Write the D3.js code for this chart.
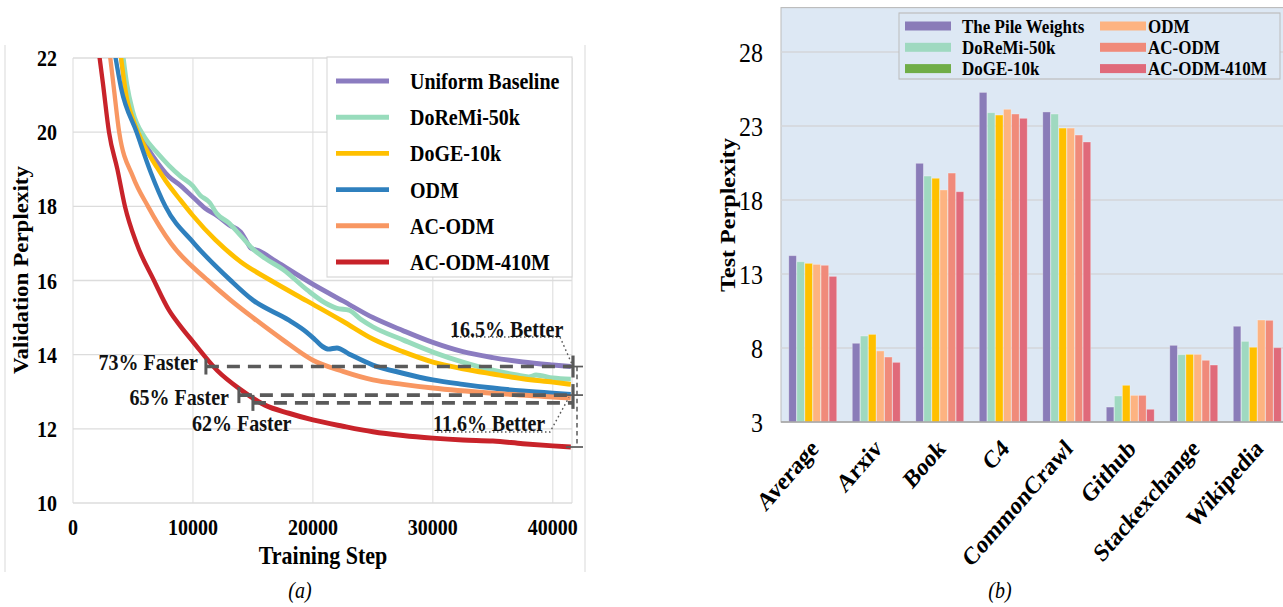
<!DOCTYPE html>
<html>
<head>
<meta charset="utf-8">
<script src="https://cdn.jsdelivr.net/npm/d3@7"></script>
<style>
  body { margin: 0; background: #fff; }
  svg { display: block; font-family: "Liberation Serif", "Times New Roman", serif; }
  .b { font-weight: bold; }
</style>
</head>
<body>
<div id="chart"></div>
<script>
// ---- panel (a): validation perplexity curves ----
const lineNames = ['Uniform Baseline', 'DoReMi-50k', 'DoGE-10k', 'ODM', 'AC-ODM', 'AC-ODM-410M'];
const lineColors = ['#8b7cc0', '#98dcbc', '#ffc000', '#2f80be', '#f89762', '#c8232a'];

const uniformPts = [[3900,22.3],[4500,20.9],[5000,20.4],[6000,19.7],[7000,19.2],[8000,18.8],[9000,18.55],[10000,18.25],[11000,17.95],[12000,17.75],[13000,17.5],[14000,17.3],[14400,17.1],[14800,16.88],[15500,16.8],[17000,16.5],[20000,15.9],[22500,15.45],[25000,15.0],[27500,14.65],[30000,14.33],[32500,14.08],[35000,13.92],[37500,13.8],[40000,13.72],[41500,13.68]];
const doremiPts = [[4100,22.3],[4500,21.3],[5000,20.55],[6000,19.85],[7000,19.45],[8000,19.1],[9000,18.8],[10000,18.55],[10600,18.3],[11400,18.1],[12000,17.8],[13000,17.55],[14000,17.2],[15000,16.85],[16000,16.6],[17500,16.3],[19500,15.75],[21000,15.4],[22000,15.25],[23000,15.2],[24000,14.95],[25000,14.75],[27500,14.4],[30000,14.07],[32500,13.8],[35000,13.58],[37000,13.45],[38000,13.4],[38600,13.45],[40000,13.37],[41500,13.34]];
const dogePts = [[3900,22.3],[4500,20.9],[5000,20.35],[6000,19.6],[7000,19.05],[7700,18.7],[9000,18.15],[10000,17.75],[11850,17.1],[14000,16.5],[16500,16.0],[19500,15.45],[22500,14.9],[25000,14.42],[27500,14.08],[30000,13.8],[32500,13.62],[35000,13.48],[37500,13.35],[40000,13.26],[41500,13.2]];
const odmPts = [[3400,22.3],[4000,21.2],[5300,20.0],[6500,18.9],[7700,18.0],[10100,17.0],[13150,16.0],[15000,15.47],[18000,14.93],[19500,14.6],[20200,14.4],[20800,14.22],[21300,14.15],[22000,14.18],[23000,14.02],[25000,13.72],[27500,13.5],[30000,13.32],[32500,13.2],[35000,13.1],[37500,13.02],[40000,12.96],[41500,12.93]];
const acodmPts = [[3000,22.3],[3400,21.2],[3850,20.0],[5000,18.8],[6250,18.0],[8170,17.0],[11250,16.0],[13150,15.47],[15000,15.0],[17500,14.4],[20000,13.85],[22500,13.55],[25000,13.32],[27500,13.2],[30000,13.1],[35000,12.96],[40000,12.86],[41500,12.83]];
const ac410Pts = [[2100,22.3],[2500,21.3],[3000,20.0],[3700,19.0],[4330,18.0],[5300,17.0],[6750,16.0],[8000,15.2],[9000,14.75],[10000,14.35],[12000,13.58],[14000,13.05],[16000,12.64],[18000,12.42],[20000,12.24],[22500,12.07],[25000,11.92],[27500,11.82],[30000,11.75],[32500,11.7],[35000,11.67],[37500,11.6],[40000,11.54],[41500,11.51]];
const linePts = [uniformPts, doremiPts, dogePts, odmPts, acodmPts, ac410Pts];

const leftYTicks = [10, 12, 14, 16, 18, 20, 22];
const leftXTicks = [0, 10000, 20000, 30000, 40000];

// speed-up markers: level, start step, label
const fasterLevels = [13.68, 12.91, 12.70];
const fasterStarts = [11080, 13830, 15000];
const fasterLabels = ['73% Faster', '65% Faster', '62% Faster'];
const betterLevels = [13.68, 12.91, 11.51];
const betterLabels = ['16.5% Better', '11.6% Better'];

// ---- panel (b): test perplexity bars ----
const domains = ['Average', 'Arxiv', 'Book', 'C4', 'CommonCrawl', 'Github', 'Stackexchange', 'Wikipedia'];
const barNames = ['The Pile Weights', 'DoReMi-50k', 'DoGE-10k', 'ODM', 'AC-ODM', 'AC-ODM-410M'];
const barColors = ['#8a7cb8', '#9fd9c0', '#ffc000', '#fdb381', '#f08a7a', '#e06a7a'];
const legendColors = ['#8a7cb8', '#9fd9c0', '#70ad47', '#fdb381', '#f08a7a', '#e06a7a'];
const pileVals   = [14.24, 8.32, 20.48, 25.27, 23.95, 4.01, 8.18, 9.47];
const doremiVals = [13.83, 8.81, 19.62, 23.90, 23.81, 4.76, 7.55, 8.45];
const dogeVals   = [13.72, 8.92, 19.47, 23.74, 22.86, 5.48, 7.57, 8.05];
const odmVals    = [13.65, 7.80, 18.68, 24.13, 22.86, 4.80, 7.57, 9.89];
const acodmVals  = [13.59, 7.39, 19.82, 23.81, 22.39, 4.80, 7.17, 9.87];
const ac410Vals  = [12.84, 7.03, 18.56, 23.52, 21.92, 3.86, 6.85, 8.02];
const barVals = [pileVals, doremiVals, dogeVals, odmVals, acodmVals, ac410Vals];
const rightYTicks = [3, 8, 13, 18, 23, 28];

// the source figure is a little taller than its fonts, so stretch it vertically
const SY = 1.15;
const Y = v => v / SY;

const svg = d3.select('#chart').append('svg')
  .attr('width', 1283)
  .attr('height', 607);
const root = svg.append('g').attr('transform', `scale(1,${SY})`);

// ============ panel (a) ============
const x = d3.scaleLinear().domain([0, 41600]).range([73, 572]);
const y = d3.scaleLinear().domain([10, 22]).range([Y(503), Y(58)]);

// outer frame
[5, 585].forEach(px => {
  root.append('line').attr('x1', px).attr('x2', px).attr('y1', Y(45)).attr('y2', Y(572))
    .attr('stroke', '#d9d9d9').attr('stroke-width', 1);
});

const ga = root.append('g');
ga.selectAll('.hgrid').data(leftYTicks).enter().append('line')
  .attr('x1', x(0)).attr('x2', x(41600))
  .attr('y1', d => y(d)).attr('y2', d => y(d))
  .attr('stroke', '#dcdcdc').attr('stroke-width', 1.2);
ga.selectAll('.vgrid').data(leftXTicks.concat([41600])).enter().append('line')
  .attr('x1', d => x(d)).attr('x2', d => x(d))
  .attr('y1', y(10)).attr('y2', y(22))
  .attr('stroke', '#dcdcdc').attr('stroke-width', 1);

ga.selectAll('.ytl').data(leftYTicks).enter().append('text')
  .attr('class', 'b').attr('x', 57).attr('y', d => y(d)).attr('dy', '0.35em')
  .attr('text-anchor', 'end').attr('font-size', 20).text(d => d);
ga.selectAll('.xtl').data(leftXTicks).enter().append('text')
  .attr('class', 'b').attr('x', d => x(d)).attr('y', Y(527)).attr('dy', '0.35em')
  .attr('text-anchor', 'middle').attr('font-size', 20).text(d => d);

ga.append('text').attr('class', 'b').attr('x', 323).attr('y', Y(555)).attr('dy', '0.35em')
  .attr('text-anchor', 'middle').attr('font-size', 22).text('Training Step');
ga.append('text').attr('class', 'b')
  .attr('transform', `translate(21,${Y(270)}) rotate(-90)`).attr('dy', '0.35em')
  .attr('text-anchor', 'middle').attr('font-size', 20).text('Validation Perplexity');

root.append('clipPath').attr('id', 'clipA').append('rect')
  .attr('x', x(0)).attr('y', y(22)).attr('width', x(41600) - x(0)).attr('height', y(10) - y(22));

const line = d3.line().x(d => x(d[0])).y(d => y(d[1])).curve(d3.curveMonotoneX);
ga.append('g').attr('clip-path', 'url(#clipA)')
  .selectAll('path').data(linePts).enter().append('path')
  .attr('d', line).attr('fill', 'none')
  .attr('stroke', (d, i) => lineColors[i]).attr('stroke-width', 4.3)
  .attr('stroke-linejoin', 'round');

// legend (a)
const la = ga.append('g');
la.append('rect').attr('x', 327).attr('y', Y(57)).attr('width', 245).attr('height', Y(220))
  .attr('fill', '#fff').attr('stroke', '#d6d6d6');
lineNames.forEach((n, i) => {
  const ly = Y(81 + i * 36.2);
  la.append('line').attr('x1', 336).attr('x2', 389).attr('y1', ly).attr('y2', ly)
    .attr('stroke', lineColors[i]).attr('stroke-width', 4.3);
  la.append('text').attr('class', 'b').attr('x', 410).attr('y', ly).attr('dy', '0.35em')
    .attr('font-size', 20).text(n);
});

// annotations
const endX = 573;
const ann = ga.append('g').attr('stroke', '#5a5a5a');
fasterLevels.forEach((lv, i) => {
  ann.append('line').attr('x1', x(fasterStarts[i])).attr('x2', endX)
    .attr('y1', y(lv)).attr('y2', y(lv))
    .attr('stroke-width', 3.2).attr('stroke-dasharray', '13,8');
  ann.append('line').attr('x1', x(fasterStarts[i])).attr('x2', x(fasterStarts[i]))
    .attr('y1', y(lv) - Y(8)).attr('y2', y(lv) + Y(8)).attr('stroke-width', 3);
});
ann.append('line').attr('x1', endX).attr('x2', endX)
  .attr('y1', y(13.68) - Y(11)).attr('y2', y(13.68) + Y(11)).attr('stroke-width', 3.2);
ann.append('line').attr('x1', endX).attr('x2', endX)
  .attr('y1', y(12.91) - Y(11)).attr('y2', y(12.70) + Y(6)).attr('stroke-width', 3.2);
ann.append('line').attr('x1', 577).attr('x2', 577)
  .attr('y1', y(13.68)).attr('y2', y(11.51))
  .attr('stroke-width', 1.5).attr('stroke-dasharray', '4,3');
betterLevels.forEach(lv => {
  ann.append('line').attr('x1', 566).attr('x2', 583).attr('y1', y(lv)).attr('y2', y(lv))
    .attr('stroke-width', 1.5);
});
// dotted call-outs
ann.append('polyline').attr('fill', 'none')
  .attr('points', `452,${Y(337)} 560,${Y(337)} ${endX},${y(13.68)}`)
  .attr('stroke-width', 1.4).attr('stroke-dasharray', '1.5,2.5');
ann.append('polyline').attr('fill', 'none')
  .attr('points', `437,${Y(432)} 550,${Y(432)} 569,${y(12.85)}`)
  .attr('stroke-width', 1.4).attr('stroke-dasharray', '1.5,2.5');

const annText = (t, px, py, anchor) => ga.append('text').attr('class', 'b')
  .attr('x', px).attr('y', Y(py)).attr('dy', '0.35em').attr('text-anchor', anchor)
  .attr('font-size', 20).attr('fill', '#111').text(t);
annText(fasterLabels[0], 198, 362, 'end');
annText(fasterLabels[1], 229, 397, 'end');
annText(fasterLabels[2], 192, 423, 'start');
annText(betterLabels[0], 450, 329, 'start');
annText(betterLabels[1], 433, 423, 'start');

ga.append('text').attr('x', 300).attr('y', Y(590)).attr('dy', '0.35em')
  .attr('text-anchor', 'middle').attr('font-style', 'italic').attr('font-size', 20).text('(a)');

// ============ panel (b) ============
const gb = root.append('g');
const xb = d3.scaleBand().domain(domains).range([781, 1289]).paddingInner(0.23).paddingOuter(0.115);
const xs = d3.scaleBand().domain(barNames).range([0, xb.bandwidth()]).padding(0.06);
const yb = d3.scaleLinear().domain([3, 31]).range([Y(422), Y(422 - 28 * 14.8)]);

gb.append('rect').attr('x', 781).attr('y', yb(31)).attr('width', 520).attr('height', yb(3) - yb(31))
  .attr('fill', '#dde8f4').attr('stroke', '#bcbcbc');
gb.selectAll('.grid').data(rightYTicks.slice(1)).enter().append('line')
  .attr('x1', 781).attr('x2', 1283).attr('y1', d => yb(d)).attr('y2', d => yb(d))
  .attr('stroke', '#d3d6da').attr('stroke-width', 1.2);

gb.selectAll('.ytl').data(rightYTicks).enter().append('text')
  .attr('x', 763).attr('y', d => yb(d)).attr('dy', '0.35em')
  .attr('text-anchor', 'end').attr('font-size', 24).text(d => d);
gb.append('text').attr('class', 'b')
  .attr('transform', `translate(728,${Y(215)}) rotate(-90)`).attr('dy', '0.35em')
  .attr('text-anchor', 'middle').attr('font-size', 21).text('Test Perplexity');

const groups = gb.selectAll('.grp').data(domains).enter().append('g')
  .attr('transform', d => `translate(${xb(d)},0)`);
groups.selectAll('rect').data((d, ci) => barNames.map((s, si) => ({ s, si, v: barVals[si][ci] })))
  .enter().append('rect')
  .attr('x', d => xs(d.s)).attr('width', xs.bandwidth())
  .attr('y', d => yb(d.v)).attr('height', d => yb(3) - yb(d.v))
  .attr('fill', d => barColors[d.si])
  .attr('stroke', '#ffffff').attr('stroke-opacity', 0.35).attr('stroke-width', 0.8);

gb.append('line').attr('x1', 781).attr('x2', 1283).attr('y1', yb(3)).attr('y2', yb(3))
  .attr('stroke', '#a6a6a6').attr('stroke-width', 1.5);

domains.forEach(c => {
  gb.append('text').attr('class', 'b').attr('font-size', 22).attr('text-anchor', 'end')
    .attr('transform', `translate(${xb(c) + xb.bandwidth() / 2 + 7},${Y(450)}) rotate(-45)`)
    .text(c);
});

// legend (b)
const lb = gb.append('g');
lb.append('rect').attr('x', 899).attr('y', Y(13)).attr('width', 381).attr('height', Y(66))
  .attr('fill', '#dde8f4').attr('stroke', '#bcbcbc');
barNames.forEach((n, i) => {
  const col = Math.floor(i / 3), row = i % 3;
  const sx = col === 0 ? 905 : 1100;
  const tx = col === 0 ? 962 : 1148;
  const ry = 26 + row * 21.3;
  lb.append('rect').attr('x', sx).attr('y', Y(ry - 4.5)).attr('width', 46).attr('height', Y(9))
    .attr('fill', legendColors[i]);
  lb.append('text').attr('class', 'b').attr('x', tx).attr('y', Y(ry)).attr('dy', '0.35em')
    .attr('font-size', 17).text(n);
});

gb.append('text').attr('x', 1000).attr('y', Y(590)).attr('dy', '0.35em')
  .attr('text-anchor', 'middle').attr('font-style', 'italic').attr('font-size', 20).text('(b)');
</script>
</body>
</html>
